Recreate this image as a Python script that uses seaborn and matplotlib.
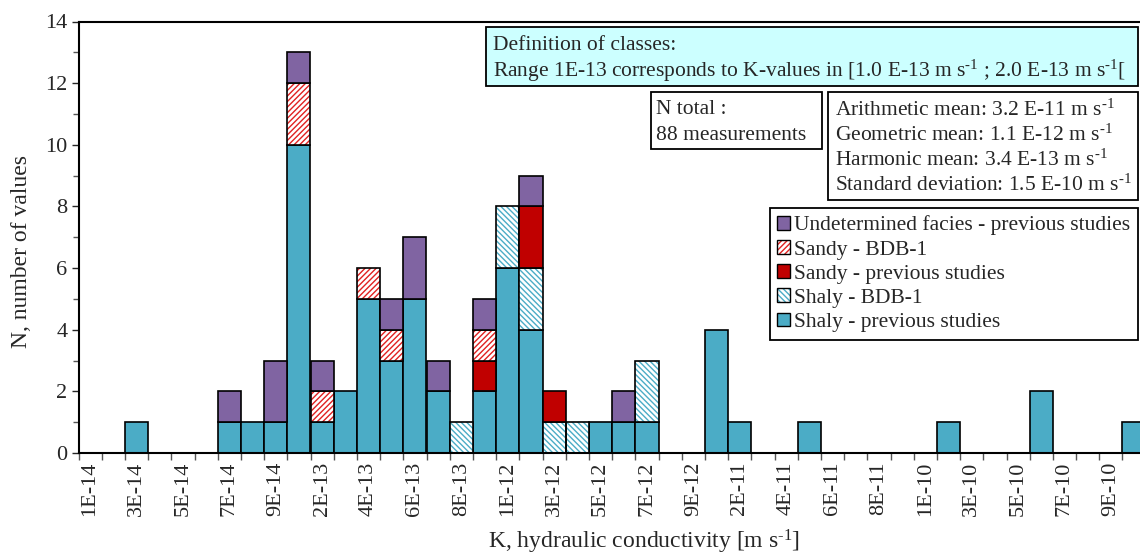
import matplotlib

matplotlib.use("Agg")
import matplotlib.pyplot as plt
import numpy as np
import seaborn as sns
from matplotlib.legend_handler import HandlerTuple
from matplotlib.patches import Patch, Rectangle
from matplotlib.ticker import FixedLocator

# K classes (lower bound of each class, m s-1)
classes = [
    "1E-14", "2E-14", "3E-14", "4E-14", "5E-14", "6E-14", "7E-14", "8E-14", "9E-14",
    "1E-13", "2E-13", "3E-13", "4E-13", "5E-13", "6E-13", "7E-13", "8E-13", "9E-13",
    "1E-12", "2E-12", "3E-12", "4E-12", "5E-12", "6E-12", "7E-12", "8E-12", "9E-12",
    "1E-11", "2E-11", "3E-11", "4E-11", "5E-11", "6E-11", "7E-11", "8E-11", "9E-11",
    "1E-10", "2E-10", "3E-10", "4E-10", "5E-10", "6E-10", "7E-10", "8E-10", "9E-10",
    "1E-09",
]
shaly_prev = [0, 0, 1, 0, 0, 0, 1, 1, 1, 10,
              1, 2, 5, 3, 5, 2, 0, 2, 6, 4,
              0, 0, 1, 1, 1, 0, 0, 4, 1, 0,
              0, 1, 0, 0, 0, 0, 0, 1, 0, 0,
              0, 2, 0, 0, 0, 1]
shaly_bdb = [0, 0, 0, 0, 0, 0, 0, 0, 0, 0,
             0, 0, 0, 0, 0, 0, 1, 0, 2, 2,
             1, 1, 0, 0, 2, 0, 0, 0, 0, 0,
             0, 0, 0, 0, 0, 0, 0, 0, 0, 0,
             0, 0, 0, 0, 0, 0]
sandy_prev = [0, 0, 0, 0, 0, 0, 0, 0, 0, 0,
              0, 0, 0, 0, 0, 0, 0, 1, 0, 2,
              1, 0, 0, 0, 0, 0, 0, 0, 0, 0,
              0, 0, 0, 0, 0, 0, 0, 0, 0, 0,
              0, 0, 0, 0, 0, 0]
sandy_bdb = [0, 0, 0, 0, 0, 0, 0, 0, 0, 2,
             1, 0, 1, 1, 0, 0, 0, 1, 0, 0,
             0, 0, 0, 0, 0, 0, 0, 0, 0, 0,
             0, 0, 0, 0, 0, 0, 0, 0, 0, 0,
             0, 0, 0, 0, 0, 0]
undetermined = [0, 0, 0, 0, 0, 0, 1, 0, 2, 1,
                1, 0, 0, 1, 2, 1, 0, 1, 0, 1,
                0, 0, 0, 1, 0, 0, 0, 0, 0, 0,
                0, 0, 0, 0, 0, 0, 0, 0, 0, 0,
                0, 0, 0, 0, 0, 0]

SUP = "$^{\\text{-1}}$"
stats_lines = [
    f"Arithmetic mean: 3.2 E-11 m s{SUP}",
    f"Geometric mean: 1.1 E-12 m s{SUP}",
    f"Harmonic mean: 3.4 E-13 m s{SUP}",
    f"Standard deviation: 1.5 E-10 m s{SUP}",
]

TEAL = "#4BACC6"
PURPLE = "#8064A2"
RED = "#C00000"
W, H = 1140, 554
BOX_FS = 15.5

sns.set_theme(style="ticks")
plt.rcParams["font.family"] = ["Liberation Serif", "DejaVu Serif"]
plt.rcParams.update({
    "mathtext.fontset": "custom",
    "mathtext.rm": "Liberation Serif",
    "mathtext.it": "Liberation Serif:italic",
    "hatch.linewidth": 1.0,
    "font.size": 15,
})


def fx(px):
    return px / W


def fy(py):
    return 1 - py / H


fig = plt.figure(figsize=(W / 100, H / 100), dpi=100)
ax = fig.add_axes([fx(78.5), fy(453), (46 * 23.2) / W, (453 - 21.5) / H])

x = np.arange(len(classes))
layers = [
    (shaly_prev, TEAL, None, None, "Shaly - previous studies"),
    (shaly_bdb, "white", TEAL, "\\\\\\\\\\\\", "Shaly - BDB-1"),
    (sandy_prev, RED, None, None, "Sandy - previous studies"),
    (sandy_bdb, "white", "#E02020", "//////", "Sandy - BDB-1"),
    (undetermined, PURPLE, None, None, "Undetermined facies - previous studies"),
]
bottom = np.zeros(len(classes))
handles = {}
for values, face, hatch_color, hatch, label in layers:
    values = np.asarray(values, dtype=float)
    mask = values > 0
    if hatch:
        ax.bar(x[mask], values[mask], bottom=bottom[mask], width=1, color=face,
               edgecolor=hatch_color, hatch=hatch, linewidth=0)
        ax.bar(x[mask], values[mask], bottom=bottom[mask], width=1,
               facecolor="none", edgecolor="black", linewidth=1.2)
        handles[label] = (
            Patch(facecolor=face, edgecolor=hatch_color, hatch=hatch, linewidth=0),
            Patch(facecolor="none", edgecolor="black", linewidth=1.0),
        )
    else:
        ax.bar(x[mask], values[mask], bottom=bottom[mask], width=1, color=face,
               edgecolor="black", linewidth=1.2)
        handles[label] = Patch(facecolor=face, edgecolor="black", linewidth=1.0)
    bottom += values

ax.set_xlim(-0.5, len(classes) - 0.5)
ax.set_ylim(0, 14)
ax.set_yticks(range(0, 15, 2))
ax.yaxis.set_minor_locator(FixedLocator(range(1, 14, 2)))
ax.set_xticks(x[::2])
ax.set_xticklabels(classes[::2], rotation=90)
ax.xaxis.set_minor_locator(FixedLocator(np.arange(-0.5, len(classes), 1)))
ax.tick_params(axis="x", which="major", length=0, pad=6, labelsize=16)
ax.tick_params(axis="x", which="minor", length=5, width=1, color="#555555")
ax.tick_params(axis="y", which="major", length=5, width=1, labelsize=16, pad=3)
ax.tick_params(axis="y", which="minor", length=4, width=1, color="#555555")
for spine in ax.spines.values():
    spine.set_linewidth(1.5)
    spine.set_color("black")
ax.grid(False)

fig.text(fx(22), fy(251), "N, number of values", rotation=90,
         ha="center", va="center", fontsize=17)
fig.text(fx(644), fy(548), f"K, hydraulic conductivity [m s{SUP}]",
         ha="center", va="baseline", fontsize=17)


def text_box(x0, y0, x1, y1, lines, line_y, text_x, face="white"):
    fig.add_artist(Rectangle((fx(x0), fy(y1)), fx(x1) - fx(x0), fy(y0) - fy(y1),
                             transform=fig.transFigure, facecolor=face,
                             edgecolor="black", linewidth=1.3, zorder=5))
    for line, ly in zip(lines, line_y):
        fig.text(fx(text_x), fy(ly), line, ha="left", va="center",
                 fontsize=BOX_FS, zorder=6)


text_box(486, 27, 1138, 86,
         ["Definition of classes:",
          f"Range 1E-13 corresponds to K-values in [1.0 E-13 m s{SUP} ; "
          f"2.0 E-13 m s{SUP}["],
         [46, 71], 493, face="#CCFFFF")
text_box(651, 92, 822, 149, ["N total :", "88 measurements"], [110, 136], 656)
text_box(828, 92, 1138, 200, stats_lines, [110, 135, 160, 185], 835)

order = ["Undetermined facies - previous studies", "Sandy - BDB-1",
         "Sandy - previous studies", "Shaly - BDB-1", "Shaly - previous studies"]
leg = fig.legend([handles[k] for k in order], order, loc="upper right",
                 bbox_to_anchor=(fx(1138), fy(208)), bbox_transform=fig.transFigure,
                 handler_map={tuple: HandlerTuple(ndivide=1, pad=0)},
                 fontsize=BOX_FS, frameon=True, fancybox=False, framealpha=1,
                 edgecolor="black", borderpad=0.35, labelspacing=0.22,
                 handlelength=0.6, handleheight=0.6, handletextpad=0.2,
                 borderaxespad=0)
leg.get_frame().set_linewidth(1.3)

fig.savefig("out.png", dpi=100)
